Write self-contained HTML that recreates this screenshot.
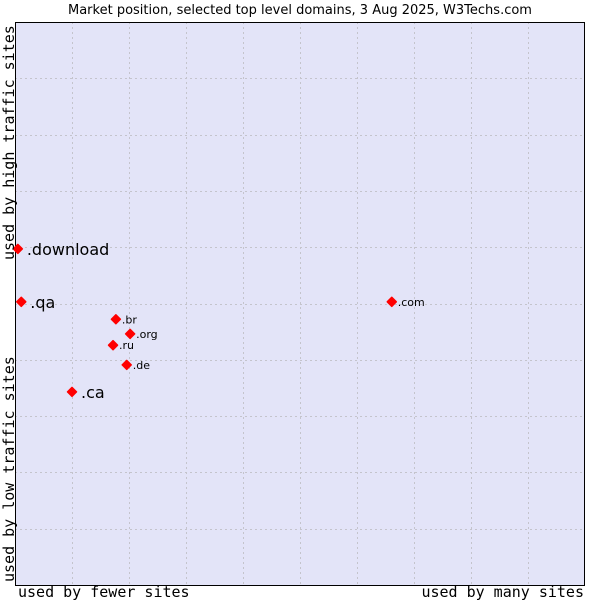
<!DOCTYPE html>
<html><head><meta charset="utf-8"><style>
body{margin:0;background:#fff;width:600px;height:600px;overflow:hidden}
svg{display:block}
</style></head><body>
<svg id="chart" width="600" height="600">
<text x="300" y="14" text-anchor="middle" font-family="DejaVu Sans, sans-serif" font-size="13" fill="#000">Market position, selected top level domains, 3 Aug 2025, W3Techs.com</text>
<rect x="15" y="22" width="570" height="563" fill="#e3e4f8"/>
<g id="grid"></g>
<line x1="15.5" y1="22" x2="15.5" y2="585" stroke="#000"/>
<line x1="15" y1="22.5" x2="585" y2="22.5" stroke="#000"/>
<line x1="15" y1="585.5" x2="585" y2="585.5" stroke="#000"/>
<line x1="584.5" y1="22" x2="584.5" y2="585" stroke="#000"/>
<g id="points"></g>
<text x="18" y="597" font-family="DejaVu Sans Mono, monospace" font-size="15">used by fewer sites</text>
<text x="584" y="597" text-anchor="end" font-family="DejaVu Sans Mono, monospace" font-size="15">used by many sites</text>
<text transform="translate(14,582) rotate(-90)" font-family="DejaVu Sans Mono, monospace" font-size="15">used by low traffic sites</text>
<text transform="translate(14,260) rotate(-90)" font-family="DejaVu Sans Mono, monospace" font-size="15">used by high traffic sites</text>
</svg>
<script>
const domains = [".download", ".qa", ".br", ".org", ".ru", ".de", ".ca", ".com"];
const usage = [0.5, 1.1, 17.7, 20.2, 17.2, 19.6, 10.0, 66.1];
const traffic = [59.7, 50.3, 47.2, 44.6, 42.6, 39.1, 34.3, 50.3];
const bigLabel = [true, true, false, false, false, false, true, false];
const X0=15,X1=585,Y0=585,Y1=22;
const xs=v=>X0+(X1-X0)*v/100, ys=v=>Y0-(Y0-Y1)*v/100;
const NS="http://www.w3.org/2000/svg";
const grid=document.getElementById('grid');
for(let i=1;i<10;i++){
  const gx=Math.round(xs(i*10))+0.5, gy=Math.round(ys(i*10))+0.5;
  const a=document.createElementNS(NS,'line');
  
  
  a.setAttribute('x1',gx);a.setAttribute('x2',gx);a.setAttribute('y1',Y1);a.setAttribute('y2',Y0);
  a.setAttribute('stroke','#c4c4cc');a.setAttribute('stroke-dasharray','2,3');grid.appendChild(a);
  const b=document.createElementNS(NS,'line');
  
  
  b.setAttribute('y1',gy);b.setAttribute('y2',gy);b.setAttribute('x1',X0);b.setAttribute('x2',X1);
  b.setAttribute('stroke','#c4c4cc');b.setAttribute('stroke-dasharray','2,3');grid.appendChild(b);
}
const pts=document.getElementById('points');
domains.forEach((d,i)=>{
  const px=xs(usage[i]), py=ys(traffic[i]);
  const m=document.createElementNS(NS,'path');
  
  
  m.setAttribute('d',`M${px-4.5},${py} L${px},${py-4.5} L${px+4.5},${py} L${px},${py+4.5}Z`);
  m.setAttribute('fill','#ff0000');m.setAttribute('stroke','#ff0000');m.setAttribute('stroke-width','1.5');m.setAttribute('stroke-linejoin','round');
  pts.appendChild(m);
  const t=document.createElementNS(NS,'text');
  
  
  t.setAttribute('x',px+(bigLabel[i]?9:6));t.setAttribute('y',py+(bigLabel[i]?6:4));
  t.setAttribute('font-family','DejaVu Sans, sans-serif');
  t.setAttribute('font-size',bigLabel[i]?'16':'11');
  t.textContent=d;pts.appendChild(t);
});
</script>
</body></html>
